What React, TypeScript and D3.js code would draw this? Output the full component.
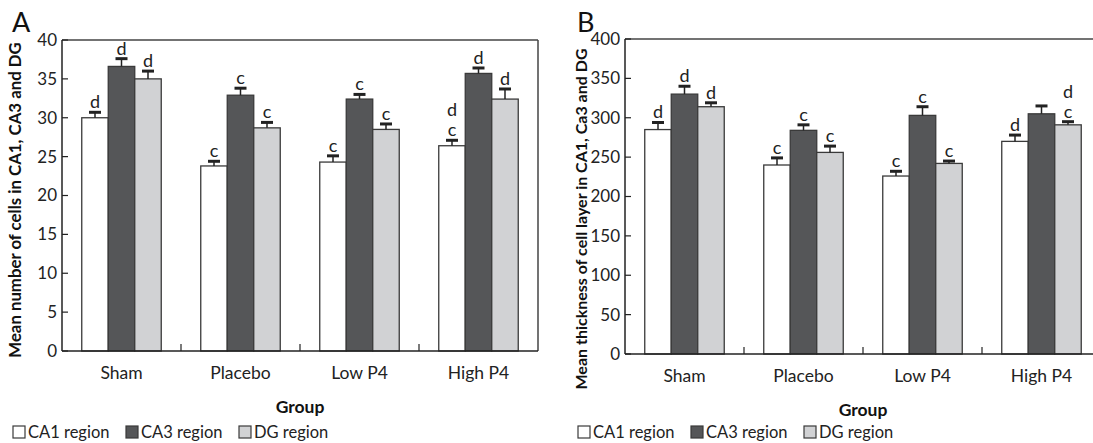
import React from 'react';
import * as d3 from 'd3';

// groups and regions
const groups = ['Sham', 'Placebo', 'Low P4', 'High P4'];
const regions = ['CA1 region', 'CA3 region', 'DG region'];

// panel A: mean number of cells
const cellCA1 = [30.0, 23.8, 24.3, 26.4];
const cellCA3 = [36.6, 32.9, 32.4, 35.7];
const cellDG = [35.0, 28.7, 28.5, 32.4];
const cellCA1Err = [0.7, 0.6, 0.8, 0.7];
const cellCA3Err = [1.0, 0.9, 0.6, 0.7];
const cellDGErr = [1.0, 0.7, 0.7, 1.3];
const cellCA1Sig = [['d'], ['c'], ['c'], ['d', 'c']];
const cellCA3Sig = [['d'], ['c'], ['c'], ['d']];
const cellDGSig = [['d'], ['c'], ['c'], ['d']];
const cellTicks = [0, 5, 10, 15, 20, 25, 30, 35, 40];

// panel B: mean thickness of cell layer
const thickCA1 = [285, 240, 226, 270];
const thickCA3 = [330, 284, 303, 305];
const thickDG = [314, 256, 242, 291];
const thickCA1Err = [9, 9, 6, 8];
const thickCA3Err = [10, 7, 11, 10];
const thickDGErr = [5, 8, 3, 4];
const thickCA1Sig = [['d'], ['c'], ['c'], ['d']];
const thickCA3Sig = [['d'], ['c'], ['c'], []];
const thickDGSig = [['d'], ['c'], ['c'], ['d', 'c']];
const thickTicks = [0, 50, 100, 150, 200, 250, 300, 350, 400];

const fills = ['#ffffff', '#555658', '#d1d2d4'];
const stroke = '#3a3a3a';
const font = 'Lato, "Open Sans", sans-serif';

type PanelProps = {
  letter: string;
  letterX: number;
  x0: number;
  top: number;
  bottom: number;
  yMax: number;
  ticks: number[];
  values: number[][];
  errors: number[][];
  sigs: string[][][];
  yLabel: string;
  yLabelX: number;
  yLabelY: number;
  yLabelSize: number;
  legendX: number;
};

const Panel = (p: PanelProps) => {
  const width = 476;
  const x = d3.scaleBand<string>()
    .domain(groups)
    .range([p.x0, p.x0 + width])
    .paddingInner(0.332)
    .paddingOuter(0.166);
  const xi = d3.scaleBand<string>()
    .domain(regions)
    .range([0, x.bandwidth()]);
  const y = d3.scaleLinear()
    .domain([0, p.yMax])
    .range([p.bottom, p.top]);

  const step = width / groups.length;

  return (
    <g fontFamily={font}>
      <text x={p.letterX} y={32} fontSize={27} fill="#111">{p.letter}</text>

      {/* frame */}
      <line x1={p.x0} x2={p.x0 + width} y1={p.top} y2={p.top} stroke="#444" strokeWidth={1.5} />
      <line x1={p.x0 + width} x2={p.x0 + width} y1={p.top} y2={p.bottom} stroke="#444" strokeWidth={1.5} />

      {/* bars */}
      {groups.map((g, gi) => (
        <g key={g}>
          {regions.map((r, ri) => {
            const v = p.values[ri][gi];
            const e = p.errors[ri][gi];
            const bx = (x(g) as number) + (xi(r) as number);
            const bw = xi.bandwidth();
            const cx = bx + bw / 2;
            const sig = p.sigs[ri][gi];
            return (
              <g key={r}>
                <rect x={bx} y={y(v)} width={bw} height={p.bottom - y(v)}
                  fill={fills[ri]} stroke={stroke} strokeWidth={1.3} />
                <line x1={cx} x2={cx} y1={y(v)} y2={y(v + e)} stroke="#222" strokeWidth={1.5} />
                <line x1={cx - 6} x2={cx + 6} y1={y(v + e)} y2={y(v + e)} stroke="#222" strokeWidth={3} />
                {sig.map((s, si) => (
                  <text key={si} x={cx} y={y(v + e) - 4 - (sig.length - 1 - si) * 20}
                    textAnchor="middle" fontSize={18} fill="#222">{s}</text>
                ))}
              </g>
            );
          })}
        </g>
      ))}

      {/* axes */}
      <line x1={p.x0} x2={p.x0} y1={p.top} y2={p.bottom} stroke="#222" strokeWidth={1.5} />
      <line x1={p.x0} x2={p.x0 + width} y1={p.bottom} y2={p.bottom} stroke="#222" strokeWidth={1.5} />
      {p.ticks.map(t => (
        <g key={t}>
          <line x1={p.x0} x2={p.x0 + 6} y1={y(t)} y2={y(t)} stroke="#222" strokeWidth={1.2} />
          <text x={p.x0 - 5} y={y(t)} dy="0.35em" textAnchor="end" fontSize={17} fill="#222">{t}</text>
        </g>
      ))}
      {d3.range(1, groups.length).map(i => (
        <line key={i} x1={p.x0 + step * i} x2={p.x0 + step * i} y1={p.bottom} y2={p.bottom - 7}
          stroke="#222" strokeWidth={1.2} />
      ))}
      {groups.map(g => (
        <text key={g} x={(x(g) as number) + x.bandwidth() / 2} y={p.bottom + 28}
          textAnchor="middle" fontSize={17.5} fill="#222">{g}</text>
      ))}
      <text x={p.x0 + width / 2} y={p.bottom + 62} textAnchor="middle" fontSize={17.5}
        fontWeight="bold" fill="#111">Group</text>
      <text transform={`translate(${p.yLabelX},${p.yLabelY}) rotate(-90)`} textAnchor="middle"
        fontSize={p.yLabelSize} fontWeight="bold" fill="#111">{p.yLabel}</text>

      {/* legend */}
      {regions.map((r, ri) => {
        const lx = p.legendX + ri * 113;
        return (
          <g key={r}>
            <rect x={lx} y={426} width={12} height={12} fill={fills[ri]} stroke={stroke} strokeWidth={1.2} />
            <text x={lx + 15} y={438} fontSize={16.5} fill="#222">{r}</text>
          </g>
        );
      })}
    </g>
  );
};

export default function App() {
  return (
    <svg width={1093} height={443} style={{ display: 'block', position: 'absolute', left: 0, top: 0, background: '#fff' }}>
      <Panel letter="A" letterX={12} x0={62} top={40} bottom={351} yMax={40} ticks={cellTicks}
        values={[cellCA1, cellCA3, cellDG]} errors={[cellCA1Err, cellCA3Err, cellDGErr]}
        sigs={[cellCA1Sig, cellCA3Sig, cellDGSig]}
        yLabel="Mean number of cells in CA1, CA3 and DG" yLabelX={21} yLabelY={200} yLabelSize={16.8}
        legendX={13} />
      <Panel letter="B" letterX={577} x0={625} top={39} bottom={354} yMax={400} ticks={thickTicks}
        values={[thickCA1, thickCA3, thickDG]} errors={[thickCA1Err, thickCA3Err, thickDGErr]}
        sigs={[thickCA1Sig, thickCA3Sig, thickDGSig]}
        yLabel="Mean thickness of cell layer in CA1, Ca3 and DG" yLabelX={587} yLabelY={219} yLabelSize={16}
        legendX={578} />
    </svg>
  );
}
